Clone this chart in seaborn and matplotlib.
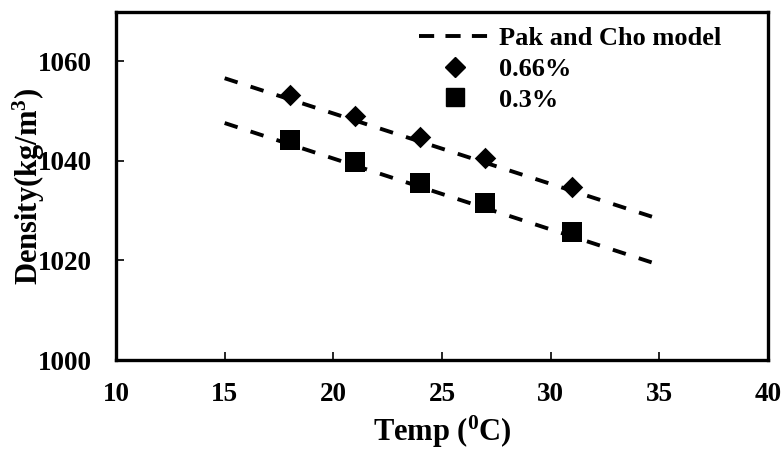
import matplotlib
matplotlib.use("Agg")
import matplotlib.pyplot as plt
from matplotlib.lines import Line2D
import seaborn as sns

# Measured densities of the nanofluid at two volume fractions
temp_c = [18, 21, 24, 27, 31]
density_066 = [1053.2, 1049.0, 1044.8, 1040.6, 1034.7]
density_03 = [1044.2, 1039.8, 1035.5, 1031.5, 1025.7]

# Pak and Cho model curves for both fractions
model_temp = [15, 35]
model_066 = [1056.6, 1028.3]
model_03 = [1047.6, 1019.1]

sns.set_theme(style="white")
plt.rcParams["font.family"] = ["Liberation Serif", "DejaVu Serif"]
plt.rcParams["font.weight"] = "bold"
plt.rcParams["text.color"] = "black"
plt.rcParams["axes.labelcolor"] = "black"
plt.rcParams["xtick.color"] = "black"
plt.rcParams["ytick.color"] = "black"
plt.rcParams["mathtext.fontset"] = "custom"
plt.rcParams["mathtext.rm"] = "Liberation Serif:bold"
plt.rcParams["mathtext.it"] = "Liberation Serif:bold"
plt.rcParams["mathtext.bf"] = "Liberation Serif:bold"

fig = plt.figure(figsize=(7.81, 4.5), dpi=100)
ax = fig.add_axes([0.1485, 0.2, 0.8349, 0.7744])

lw = 2.8
dash = (3.5, 3.5)
sns.lineplot(x=model_temp, y=model_066, ax=ax, color="black", lw=lw,
             linestyle=(0, dash))
sns.lineplot(x=model_temp, y=model_03, ax=ax, color="black", lw=lw,
             linestyle=(0, dash))
sns.scatterplot(x=temp_c, y=density_066, ax=ax, marker="D", s=120,
                color="black", edgecolor="black", linewidth=0, zorder=3)
sns.scatterplot(x=temp_c, y=density_03, ax=ax, marker="s", s=195,
                color="black", edgecolor="black", linewidth=0, zorder=3)

ax.set_xlim(10, 40)
ax.set_ylim(1000, 1070)
ax.set_xticks([10, 15, 20, 25, 30, 35, 40])
ax.set_yticks([1000, 1020, 1040, 1060])

for sp in ax.spines.values():
    sp.set_visible(True)
    sp.set_color("black")
    sp.set_linewidth(2.4)

ax.tick_params(axis="both", direction="in", length=6, width=1.2,
               colors="black", labelsize=19.5)
ax.tick_params(axis="y", pad=17, left=True)
ax.tick_params(axis="x", pad=16, bottom=True)
for lab in ax.get_xticklabels() + ax.get_yticklabels():
    lab.set_fontweight("bold")

ax.set_xlabel("Temp ($^{0}$C)", fontsize=22, fontweight="bold")
ax.set_ylabel("Density(kg/m$^{3}$)", fontsize=22, fontweight="bold")
ax.xaxis.label.set_va("center")
ax.yaxis.label.set_va("center")
ax.xaxis.set_label_coords(0.5, -0.205)
ax.yaxis.set_label_coords(-0.133, 0.497)

handles = [
    Line2D([], [], color="black", lw=lw, linestyle=(0, (3.9, 2.9))),
    Line2D([], [], color="black", marker="D", ms=10, lw=0),
    Line2D([], [], color="black", marker="s", ms=12.5, lw=0),
]
labels = ["Pak and Cho model", "0.66%", "0.3%"]
ax.legend(handles, labels, loc="upper left", bbox_to_anchor=(0.436, 1.01),
          frameon=False, handlelength=2.73, handletextpad=0.3,
          labelspacing=0.28, borderpad=0.2,
          prop={"family": "Liberation Serif", "weight": "bold", "size": 19})

fig.savefig("out.png", dpi=100, facecolor="white")
